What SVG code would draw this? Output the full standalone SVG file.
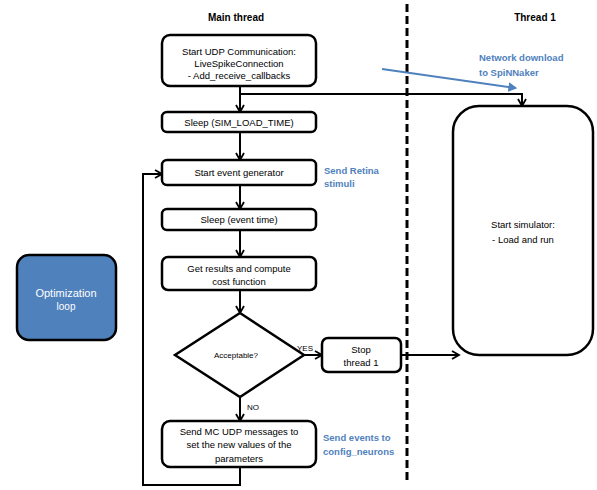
<svg xmlns="http://www.w3.org/2000/svg" width="597" height="490" viewBox="0 0 597 490">
<style>
text{font-family:"Liberation Sans",Arial,sans-serif;font-size:9.5px;fill:#000;text-anchor:middle}
.t{font-weight:bold;font-size:10px}
.b{fill:#4F81BD;font-weight:bold;text-anchor:start;font-size:9.5px}
.box{fill:#fff;stroke:#000;stroke-width:2.5}
.c{fill:none;stroke:#000;stroke-width:2}
.w{fill:#fff;font-size:11px}
</style>
<defs>
<marker id="ah" markerWidth="10" markerHeight="10" refX="8" refY="5" orient="auto" markerUnits="userSpaceOnUse">
<path d="M1,1 L8,5 L1,9" fill="none" stroke="#000" stroke-width="1.8"/>
</marker>
<marker id="ahb" markerWidth="10" markerHeight="10" refX="8" refY="5" orient="auto" markerUnits="userSpaceOnUse">
<path d="M1,1 L8,5 L1,9 Z" fill="#4F81BD" stroke="#4F81BD" stroke-width="1"/>
</marker>
</defs>
<text class="t" x="236" y="21">Main thread</text>
<text class="t" x="535" y="21">Thread 1</text>
<line x1="407" y1="4" x2="407" y2="480" stroke="#000" stroke-width="3" stroke-dasharray="8,4"/>
<g id="connectors">
<path class="c" d="M240,86 V112" marker-end="url(#ah)"/>
<path class="c" d="M240,94 H522 V106" marker-end="url(#ah)"/>
<path class="c" d="M240,132 V160" marker-end="url(#ah)"/>
<path class="c" d="M240,185 V209" marker-end="url(#ah)"/>
<path class="c" d="M240,230 V257" marker-end="url(#ah)"/>
<path class="c" d="M240,290 V313" marker-end="url(#ah)"/>
<path class="c" d="M304,355 H322" marker-end="url(#ah)"/>
<path class="c" d="M401,355 H459" marker-end="url(#ah)"/>
<path class="c" d="M240,397 V421" marker-end="url(#ah)"/>
<path class="c" d="M240,467 V485 H143 V174 H162" marker-end="url(#ah)"/>
<path d="M382,69 L516,88" fill="none" stroke="#4F81BD" stroke-width="2" marker-end="url(#ahb)"/>
<text x="305" y="351" style="font-size:8px">YES</text>
<text x="253" y="410" style="font-size:8px">NO</text>
</g>
<g id="udp">
<rect class="box" x="162" y="35" width="154" height="51" rx="8"/>
<text x="239" y="55">Start UDP Communication:</text>
<text x="239" y="67">LiveSpikeConnection</text>
<text x="239" y="79">- Add_receive_callbacks</text>
</g>
<g id="sleep1">
<rect class="box" x="162" y="112" width="154" height="20" rx="5"/>
<text x="239" y="125.5">Sleep (SIM_LOAD_TIME)</text>
</g>
<g id="startgen">
<rect class="box" x="162" y="160" width="154" height="25" rx="5"/>
<text x="239" y="176">Start event generator</text>
</g>
<g id="sleep2">
<rect class="box" x="162" y="209" width="154" height="21" rx="5"/>
<text x="239" y="223">Sleep (event time)</text>
</g>
<g id="results">
<rect class="box" x="162" y="257" width="154" height="33" rx="6"/>
<text x="239" y="272">Get results and compute</text>
<text x="239" y="285">cost function</text>
</g>
<g id="acceptable">
<polygon class="box" points="240,313 304,355 240,397 175,355"/>
<text x="236" y="358" style="font-size:8px">Acceptable?</text>
</g>
<g id="stop">
<rect class="box" x="322" y="338" width="79" height="34" rx="6"/>
<text x="361" y="353">Stop</text>
<text x="361" y="366">thread 1</text>
</g>
<g id="send">
<rect class="box" x="162" y="421" width="154" height="46" rx="8"/>
<text x="239" y="434.5">Send MC UDP messages to</text>
<text x="239" y="448">set the new values of the</text>
<text x="239" y="461.5">parameters</text>
</g>
<g id="thread1box">
<rect class="box" x="453" y="106" width="140" height="249" rx="26"/>
<text x="523" y="228">Start simulator:</text>
<text x="523" y="243">- Load and run</text>
</g>
<g id="optloop">
<rect x="17" y="255" width="99" height="85" rx="12" fill="#4F81BD" stroke="#000" stroke-width="2.5"/>
<text class="w" x="66" y="297">Optimization</text>
<text class="w" x="66" y="310" style="font-size:10px">loop</text>
</g>
<g id="labels">
<text class="b" x="324" y="174">Send Retina</text>
<text class="b" x="324" y="187">stimuli</text>
<text class="b" x="479" y="61">Network download</text>
<text class="b" x="479" y="76">to SpiNNaker</text>
<text class="b" x="323" y="441">Send events to</text>
<text class="b" x="323" y="455">config_neurons</text>
</g>
</svg>
